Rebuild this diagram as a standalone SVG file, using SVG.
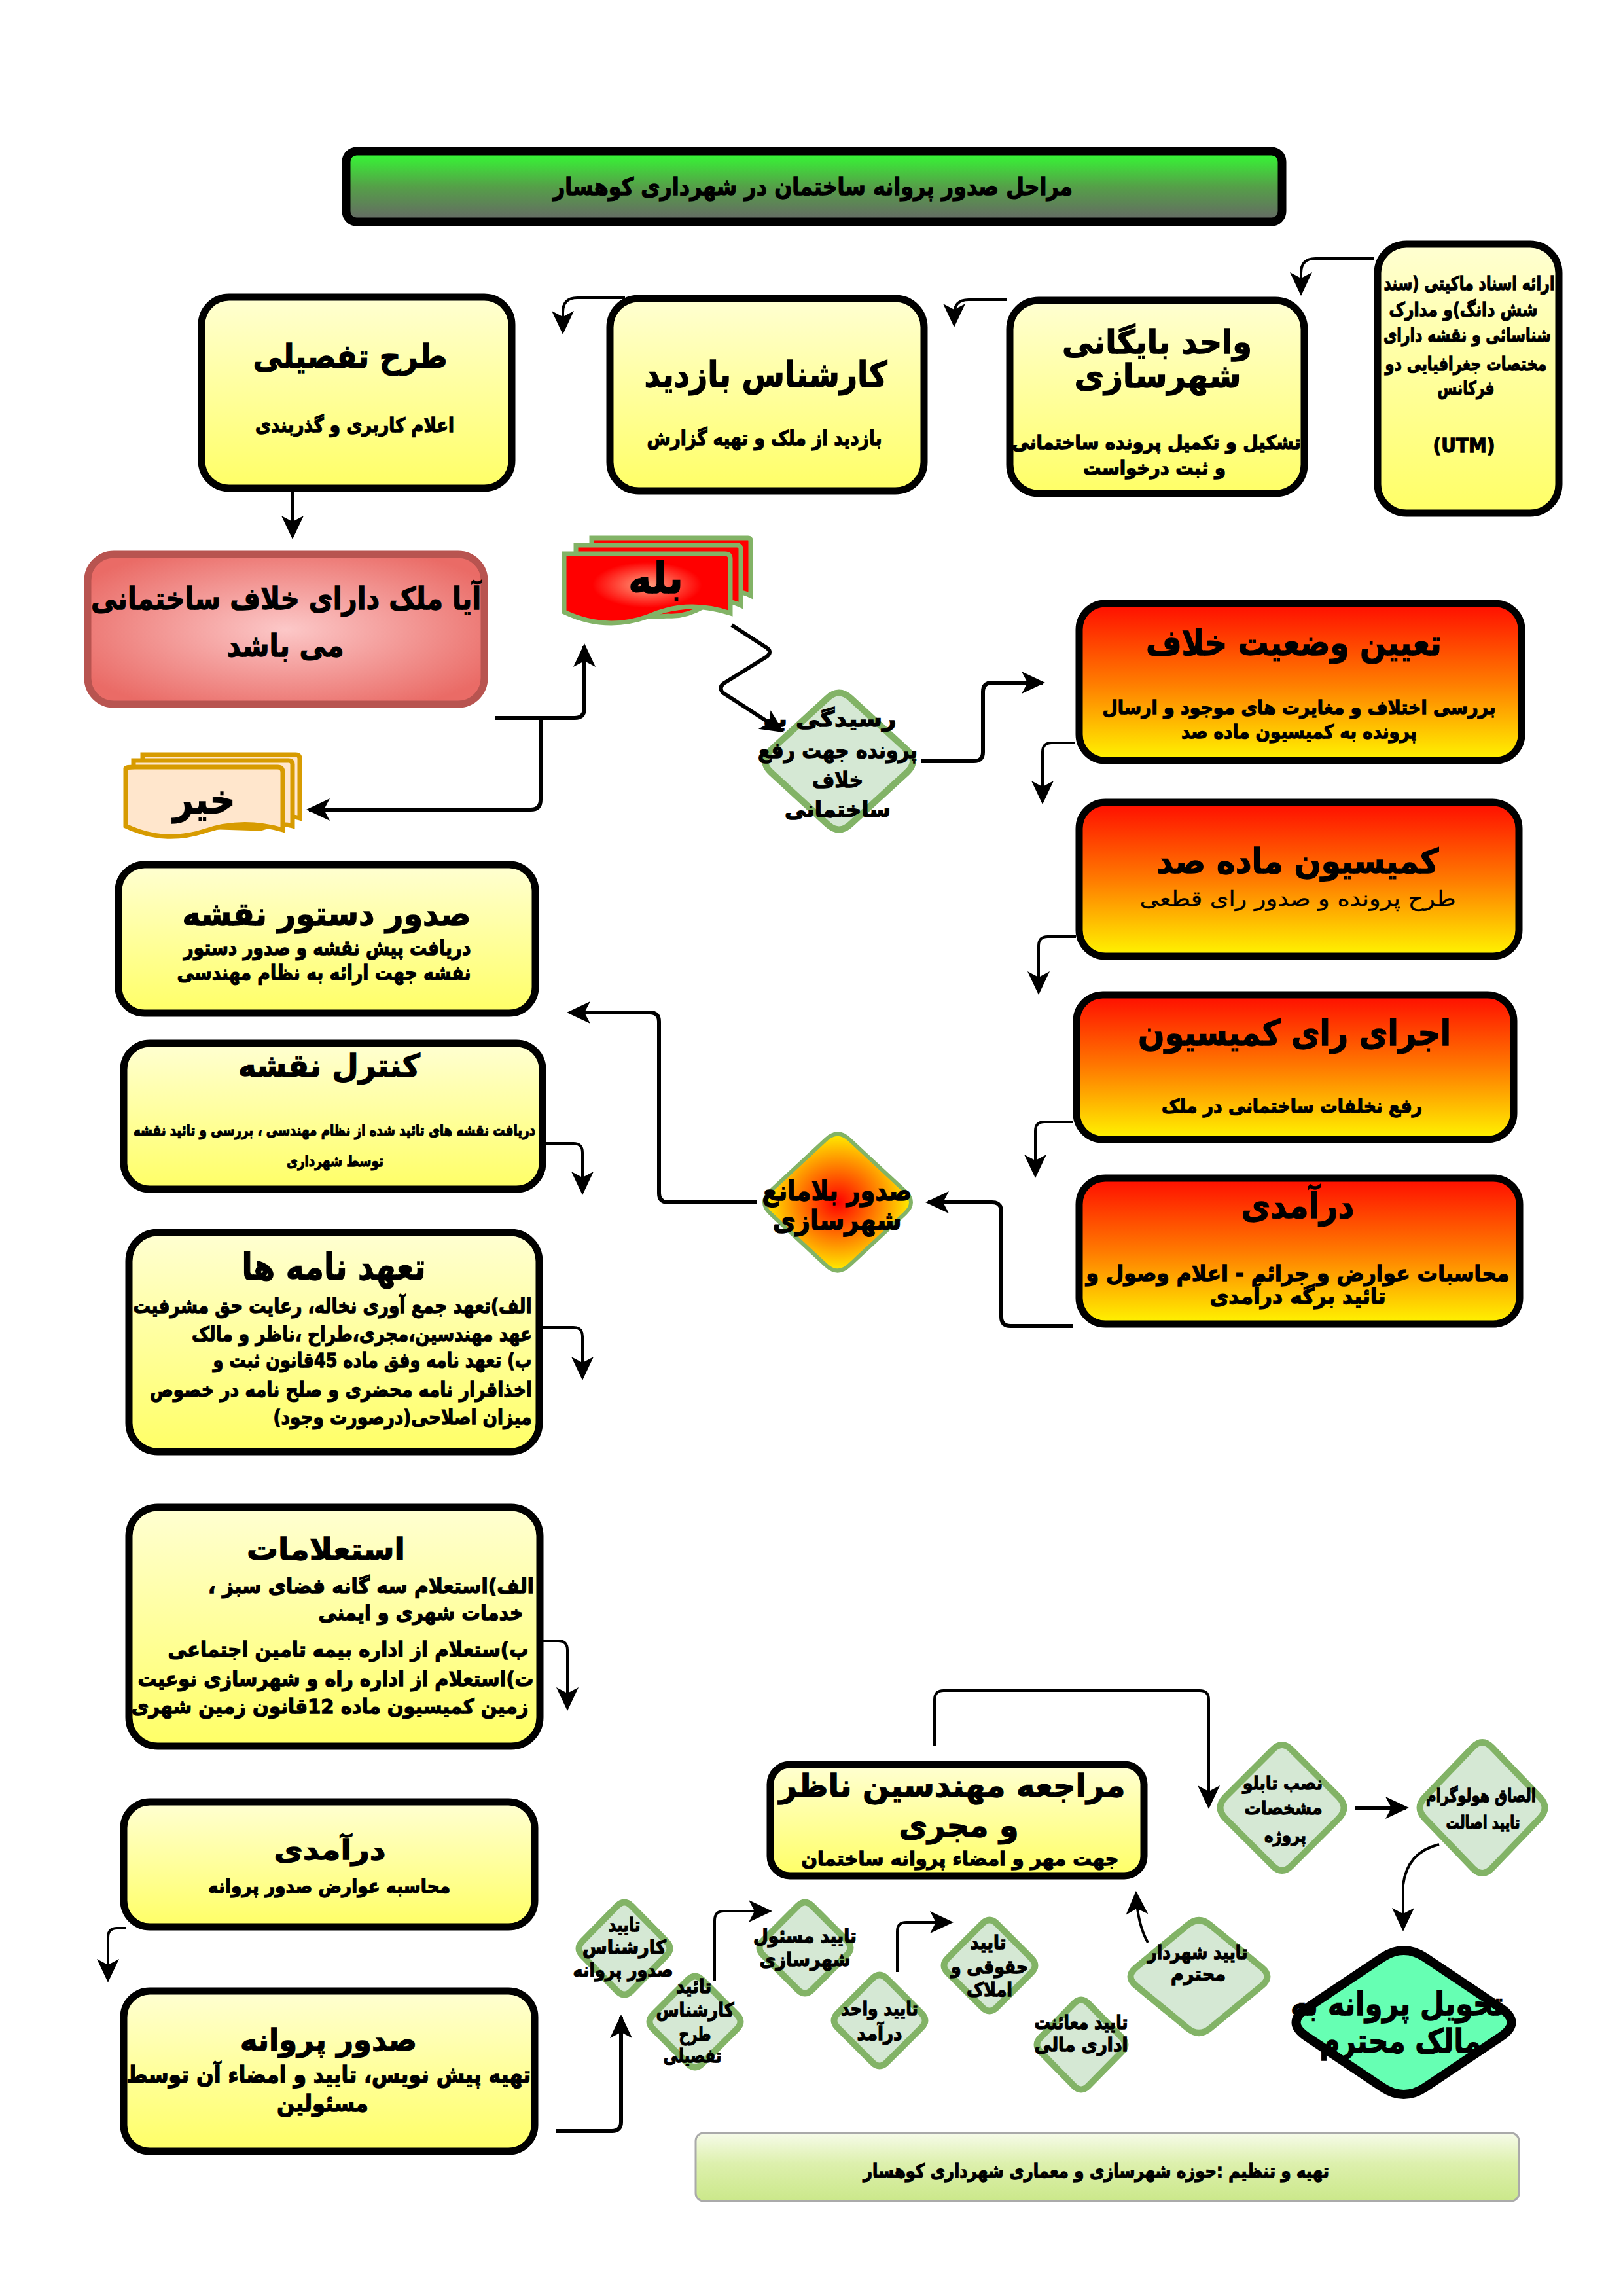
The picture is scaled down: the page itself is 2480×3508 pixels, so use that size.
<svg xmlns="http://www.w3.org/2000/svg" width="2480" height="3508" viewBox="0 0 2480 3508">
<style>
.t{font-family:"DejaVu Sans",sans-serif;font-weight:bold;fill:#000;stroke:#000;stroke-width:1.3px;direction:rtl;text-anchor:middle;dominant-baseline:middle;}
.n{font-weight:normal;stroke-width:0.3px;}
.yb{fill:url(#gY);stroke:#000;stroke-width:11;}
.rb{fill:url(#gR);stroke:#000;stroke-width:11;}
.gd{fill:#d5e8d4;stroke:#82b366;stroke-width:10;stroke-linejoin:round;}
.c{fill:none;stroke:#000;stroke-width:6;stroke-linejoin:round;marker-end:url(#ah);}
.cs{fill:none;stroke:#000;stroke-width:4;stroke-linejoin:round;marker-end:url(#ah);}
</style>
<defs>
<linearGradient id="gY" x1="0" y1="0" x2="0" y2="1"><stop offset="0" stop-color="#ffffd2"/><stop offset="1" stop-color="#ffff66"/></linearGradient>
<linearGradient id="gR" x1="0" y1="0" x2="0" y2="1"><stop offset="0" stop-color="#ff0d00"/><stop offset="0.5" stop-color="#ff7a00"/><stop offset="1" stop-color="#fff500"/></linearGradient>
<radialGradient id="gQ" cx="0.5" cy="0.5" r="0.6"><stop offset="0" stop-color="#fcc8c8"/><stop offset="1" stop-color="#ea6b66"/></radialGradient>
<radialGradient id="gB" cx="0.5" cy="0.45" r="0.55"><stop offset="0" stop-color="#ffa080"/><stop offset="0.6" stop-color="#ff0000"/><stop offset="1" stop-color="#ff0000"/></radialGradient>
<radialGradient id="gD" cx="0.5" cy="0.5" r="0.5"><stop offset="0" stop-color="#ff0000"/><stop offset="1" stop-color="#ffee00"/></radialGradient>
<linearGradient id="gT" x1="0" y1="0" x2="0" y2="1"><stop offset="0" stop-color="#33ff33"/><stop offset="0.5" stop-color="#55a048"/><stop offset="1" stop-color="#666666"/></linearGradient>
<linearGradient id="gF" x1="0" y1="0" x2="0" y2="1"><stop offset="0" stop-color="#f6fbe9"/><stop offset="0.45" stop-color="#ddf0ad"/><stop offset="1" stop-color="#cbe88a"/></linearGradient>
<marker id="ah" markerUnits="userSpaceOnUse" viewBox="0 0 40 36" markerWidth="40" markerHeight="36" refX="32" refY="17" orient="auto"><path d="M0,0 L36,17 L0,34 L9,17 Z" fill="#000"/></marker>
</defs>
<rect width="2480" height="3508" fill="#fff"/>

<g id="title">
<rect x="529" y="231" width="1430" height="108" rx="16" fill="url(#gT)" stroke="#000" stroke-width="13"/>
<text class="t" x="1242" y="287" font-size="37" textLength="794" lengthAdjust="spacingAndGlyphs">مراحل صدور پروانه ساختمان در شهرداری کوهسار</text>
</g>

<g id="node-tarh">
<rect class="yb" x="308" y="454" width="474" height="292" rx="42"/>
<text class="t" x="535" y="548" font-size="50" textLength="297" lengthAdjust="spacingAndGlyphs">طرح تفصیلی</text>
<text class="t" x="542" y="651" font-size="30" textLength="304" lengthAdjust="spacingAndGlyphs">اعلام کاربری و گذربندی</text>
</g>

<g id="node-karshenas">
<rect class="yb" x="932" y="456" width="480" height="294" rx="44"/>
<text class="t" x="1170" y="576" font-size="54" textLength="371" lengthAdjust="spacingAndGlyphs">کارشناس بازدید</text>
<text class="t" x="1168" y="671" font-size="31" textLength="359" lengthAdjust="spacingAndGlyphs">بازدید از ملک  و تهیه گزارش</text>
</g>

<g id="node-bayegani">
<rect class="yb" x="1543" y="459" width="450" height="295" rx="44"/>
<text class="t" x="1768" y="526" font-size="50" textLength="290" lengthAdjust="spacingAndGlyphs">واحد بایگانی</text>
<text class="t" x="1769" y="578" font-size="50" textLength="255" lengthAdjust="spacingAndGlyphs">شهرسازی</text>
<text class="t" x="1767" y="678" font-size="29" textLength="442" lengthAdjust="spacingAndGlyphs">تشکیل و  تکمیل پرونده ساختمانی</text>
<text class="t" x="1764" y="717" font-size="29" textLength="218" lengthAdjust="spacingAndGlyphs">و  ثبت درخواست</text>
</g>

<g id="node-asnad">
<rect class="yb" x="2105" y="373" width="277" height="411" rx="44"/>
<text class="t" x="2245" y="435" font-size="29" textLength="261" lengthAdjust="spacingAndGlyphs">ارائه اسناد ماکیتی (سند</text>
<text class="t" x="2236" y="475" font-size="29" textLength="227" lengthAdjust="spacingAndGlyphs">شش دانگ)و مدارک</text>
<text class="t" x="2242" y="514" font-size="29" textLength="256" lengthAdjust="spacingAndGlyphs">شناسائی و نقشه دارای</text>
<text class="t" x="2240" y="558" font-size="29" textLength="247" lengthAdjust="spacingAndGlyphs">مختصات جغرافیایی دو</text>
<text class="t" x="2240" y="595" font-size="29" textLength="87" lengthAdjust="spacingAndGlyphs">فرکانس</text>
<text class="t" x="2237" y="682" font-size="31" textLength="95" lengthAdjust="spacingAndGlyphs">(UTM)</text>
</g>

<g id="node-soal">
<rect x="134" y="847" width="606" height="229" rx="40" fill="url(#gQ)" stroke="#b85450" stroke-width="11"/>
<text class="t" x="437" y="918" font-size="47" textLength="596" lengthAdjust="spacingAndGlyphs">آیا ملک دارای خلاف ساختمانی</text>
<text class="t" x="436" y="990" font-size="47" textLength="179" lengthAdjust="spacingAndGlyphs">می باشد</text>
</g>

<g id="node-bale" fill="url(#gB)" stroke="#82b366" stroke-width="7">
<path d="M904,822 H1143 Q1147,822 1147,826 V910 Q1118,896 1090,912 T1036,926 Q1000,930 904,920 Z"/>
<path d="M880,833 H1126 Q1132,833 1132,839 V925 Q1103,911 1075,927 T1021,941 Q985,945 880,931 Z"/>
<path d="M862,846 Q862,846 877,846 H1108 Q1116,846 1116,854 V937 Q1050,915 990,942 Q925,965 862,935 Z"/>
<text class="t" x="1002" y="888" font-size="66" textLength="84" lengthAdjust="spacingAndGlyphs">بله</text>
</g>

<g id="node-kheir" fill="#ffe6cc" stroke="#d79b00" stroke-width="7">
<path d="M218,1153 H452 Q458,1153 458,1159 V1250 Q440,1244 410,1255 L218,1250 Z"/>
<path d="M204,1162 H441 Q447,1162 447,1168 V1262 Q428,1256 398,1266 L204,1260 Z"/>
<path d="M192,1174 Q192,1172 206,1172 H424 Q432,1172 432,1180 V1268 Q370,1250 312,1270 Q250,1290 192,1262 Z"/>
<text class="t" x="312" y="1226" font-size="62" textLength="95" lengthAdjust="spacingAndGlyphs">خیر</text>
</g>

<g id="node-residegi">
<path class="gd" stroke-width="7" d="M1300,1067 L1386,1146 Q1404,1163 1386,1180 L1300,1259 Q1282,1276 1264,1259 L1178,1180 Q1160,1163 1178,1146 L1264,1067 Q1282,1050 1300,1067Z"/>
<text class="t" x="1268" y="1100" font-size="33" textLength="203" lengthAdjust="spacingAndGlyphs">رسیدگی به</text>
<text class="t" x="1280" y="1148" font-size="33" textLength="244" lengthAdjust="spacingAndGlyphs">پرونده جهت رفع</text>
<text class="t" x="1280" y="1193" font-size="33" textLength="78" lengthAdjust="spacingAndGlyphs">خلاف</text>
<text class="t" x="1280" y="1238" font-size="33" textLength="162" lengthAdjust="spacingAndGlyphs">ساختمانی</text>
</g>

<g id="node-taein">
<rect class="rb" x="1649" y="922" width="676" height="240" rx="40"/>
<text class="t" x="1977" y="986" font-size="54" textLength="452" lengthAdjust="spacingAndGlyphs">تعیین وضعیت خلاف</text>
<text class="t" x="1985" y="1083" font-size="29" textLength="601" lengthAdjust="spacingAndGlyphs">بررسی اختلاف و مغایرت های موجود  و ارسال</text>
<text class="t" x="1985" y="1120" font-size="29" textLength="360" lengthAdjust="spacingAndGlyphs">پرونده به کمیسیون ماده صد</text>
</g>

<g id="node-komision">
<rect class="rb" x="1649" y="1226" width="672" height="235" rx="40"/>
<text class="t" x="1983" y="1320" font-size="52" textLength="431" lengthAdjust="spacingAndGlyphs">کمیسیون ماده صد</text>
<text class="t n" x="1983" y="1375" font-size="32" textLength="483" lengthAdjust="spacingAndGlyphs">طرح پرونده و صدور رای قطعی</text>
</g>

<g id="node-ejra">
<rect class="rb" x="1645" y="1520" width="668" height="221" rx="40"/>
<text class="t" x="1978" y="1582" font-size="54" textLength="478" lengthAdjust="spacingAndGlyphs">اجرای رای کمیسیون</text>
<text class="t" x="1974" y="1692" font-size="29" textLength="398" lengthAdjust="spacingAndGlyphs">رفع نخلفات ساختمانی در ملک</text>
</g>

<g id="node-daramadi-1">
<rect class="rb" x="1649" y="1800" width="673" height="223" rx="40"/>
<text class="t" x="1983" y="1846" font-size="54" textLength="173" lengthAdjust="spacingAndGlyphs">درآمدی</text>
<text class="t" x="1983" y="1947" font-size="33" textLength="647" lengthAdjust="spacingAndGlyphs">محاسبات عوارض و جرائم - اعلام وصول و</text>
<text class="t" x="1983" y="1982" font-size="33" textLength="269" lengthAdjust="spacingAndGlyphs">تائید برگه درآمدی</text>
</g>

<g id="node-belamane">
<path d="M1298,1741 L1383,1820 Q1401,1837 1383,1854 L1298,1933 Q1280,1950 1262,1933 L1177,1854 Q1159,1837 1177,1820 L1262,1741 Q1280,1724 1298,1741Z" fill="url(#gD)" stroke="#82b366" stroke-width="6"/>
<text class="t" x="1279" y="1822" font-size="42" textLength="229" lengthAdjust="spacingAndGlyphs">صدور بلامانع</text>
<text class="t" x="1279" y="1867" font-size="42" textLength="197" lengthAdjust="spacingAndGlyphs">شهرسازی</text>
</g>

<g id="node-dastoor">
<rect class="yb" x="181" y="1321" width="637" height="227" rx="40"/>
<text class="t" x="499" y="1400" font-size="50" textLength="441" lengthAdjust="spacingAndGlyphs">صدور دستور نقشه</text>
<text class="t" x="500" y="1450" font-size="31" textLength="439" lengthAdjust="spacingAndGlyphs">دریافت پیش نقشه و صدور دستور</text>
<text class="t" x="495" y="1488" font-size="31" textLength="449" lengthAdjust="spacingAndGlyphs">نفشه جهت ارائه به نظام مهندسی</text>
</g>

<g id="node-control">
<rect class="yb" x="189" y="1594" width="640" height="223" rx="40"/>
<text class="t" x="503" y="1632" font-size="48" textLength="278" lengthAdjust="spacingAndGlyphs">کنترل نقشه</text>
<text class="t" x="511" y="1728" font-size="23" textLength="614" lengthAdjust="spacingAndGlyphs">دریافت نقشه های تائید شده از نظام مهندسی ، بررسی و تائید نقشه</text>
<text class="t" x="512" y="1775" font-size="23" textLength="148" lengthAdjust="spacingAndGlyphs">توسط شهرداری</text>
</g>

<g id="node-taahod">
<rect class="yb" x="197" y="1883" width="627" height="335" rx="44"/>
<text class="t" x="510" y="1940" font-size="56" textLength="281" lengthAdjust="spacingAndGlyphs">تعهد نامه ها</text>
<text class="t" x="508" y="1997" font-size="31" textLength="609" lengthAdjust="spacingAndGlyphs">الف)تعهد جمع آوری نخاله، رعایت حق مشرفیت</text>
<text class="t" x="553" y="2040" font-size="31" textLength="520" lengthAdjust="spacingAndGlyphs">عهد مهندسین،مجری،طراح ،ناظر و مالک</text>
<text class="t" x="569" y="2080" font-size="31" textLength="487" lengthAdjust="spacingAndGlyphs">ب) تعهد نامه وفق ماده 45قانون ثبت و</text>
<text class="t" x="521" y="2125" font-size="31" textLength="584" lengthAdjust="spacingAndGlyphs">اخذاقرار نامه محضری و صلح نامه در خصوص</text>
<text class="t" x="615" y="2167" font-size="31" textLength="395" lengthAdjust="spacingAndGlyphs">میزان  اصلاحی(درصورت وجود)</text>
</g>

<g id="node-esteelamat">
<rect class="yb" x="197" y="2303" width="628" height="365" rx="44"/>
<text class="t" x="498" y="2370" font-size="46" textLength="242" lengthAdjust="spacingAndGlyphs">استعلامات</text>
<text class="t" x="567" y="2425" font-size="31" textLength="498" lengthAdjust="spacingAndGlyphs">الف)استعلام سه گانه فضای سبز ،</text>
<text class="t" x="643" y="2466" font-size="31" textLength="313" lengthAdjust="spacingAndGlyphs">خدمات شهری و ایمنی</text>
<text class="t" x="532" y="2522" font-size="31" textLength="551" lengthAdjust="spacingAndGlyphs">ب)ستعلام از اداره بیمه تامین اجتماعی</text>
<text class="t" x="513" y="2567" font-size="31" textLength="605" lengthAdjust="spacingAndGlyphs">ت)استعلام از اداره راه و شهرسازی نوعیت</text>
<text class="t" x="504" y="2609" font-size="31" textLength="607" lengthAdjust="spacingAndGlyphs">زمین کمیسیون ماده 12قانون  زمین شهری</text>
</g>

<g id="node-daramadi-2">
<rect class="yb" x="189" y="2753" width="628" height="191" rx="40"/>
<text class="t" x="504" y="2829" font-size="42" textLength="171" lengthAdjust="spacingAndGlyphs">درآمدی</text>
<text class="t" x="503" y="2884" font-size="29" textLength="370" lengthAdjust="spacingAndGlyphs">محاسبه عوارض صدور پروانه</text>
</g>

<g id="node-sodoor-parvaneh">
<rect class="yb" x="189" y="3042" width="628" height="245" rx="40"/>
<text class="t" x="502" y="3120" font-size="46" textLength="270" lengthAdjust="spacingAndGlyphs">صدور پروانه</text>
<text class="t" x="502" y="3172" font-size="35" textLength="618" lengthAdjust="spacingAndGlyphs">تهیه پیش نویس، تایید و امضاء آن توسط</text>
<text class="t" x="493" y="3216" font-size="35" textLength="140" lengthAdjust="spacingAndGlyphs">مسئولین</text>
</g>

<g id="node-moraje">
<rect class="yb" x="1177" y="2696" width="571" height="170" rx="30"/>
<text class="t" x="1455" y="2732" font-size="48" textLength="529" lengthAdjust="spacingAndGlyphs">مراجعه مهندسین ناظر</text>
<text class="t" x="1465" y="2793" font-size="48" textLength="183" lengthAdjust="spacingAndGlyphs">و مجری</text>
<text class="t" x="1467" y="2842" font-size="29" textLength="485" lengthAdjust="spacingAndGlyphs">جهت مهر و امضاء پروانه ساختمان</text>
</g>

<g id="node-nasb">
<path class="gd" d="M1974,2674 L2046,2746 Q2061,2762 2046,2778 L1974,2850 Q1959,2866 1944,2850 L1872,2778 Q1857,2762 1872,2746 L1944,2674 Q1959,2658 1974,2674Z"/>
<text class="t" x="1960" y="2726" font-size="27" textLength="122" lengthAdjust="spacingAndGlyphs">نصب تابلو</text>
<text class="t" x="1961" y="2764" font-size="27" textLength="119" lengthAdjust="spacingAndGlyphs">مشخصات</text>
<text class="t" x="1964" y="2806" font-size="27" textLength="64" lengthAdjust="spacingAndGlyphs">پروژه</text>
</g>

<g id="node-elsagh">
<path class="gd" d="M2280,2670 L2353,2746 Q2368,2762 2353,2778 L2280,2854 Q2265,2870 2250,2854 L2177,2778 Q2162,2762 2177,2746 L2250,2670 Q2265,2654 2280,2670Z"/>
<text class="t" x="2263" y="2745" font-size="27" textLength="168" lengthAdjust="spacingAndGlyphs">الصاق هولوگرام</text>
<text class="t" x="2266" y="2786" font-size="27" textLength="113" lengthAdjust="spacingAndGlyphs">تایید اصالت</text>
</g>

<g id="node-taeed-sodoor">
<path class="gd" d="M965,2912 L1018,2966 Q1029,2977 1018,2988 L965,3042 Q954,3053 943,3042 L890,2988 Q879,2977 890,2966 L943,2912 Q954,2901 965,2912Z"/>
<text class="t" x="954" y="2943" font-size="29" textLength="49" lengthAdjust="spacingAndGlyphs">تایید</text>
<text class="t" x="954" y="2977" font-size="29" textLength="128" lengthAdjust="spacingAndGlyphs">کارشناس</text>
<text class="t" x="952" y="3012" font-size="29" textLength="153" lengthAdjust="spacingAndGlyphs">صدور پروانه</text>
</g>

<g id="node-taeed-tarh">
<path class="gd" d="M1073,3025 L1126,3078 Q1137,3089 1126,3100 L1073,3153 Q1062,3164 1051,3153 L998,3100 Q987,3089 998,3078 L1051,3025 Q1062,3014 1073,3025Z"/>
<text class="t" x="1060" y="3037" font-size="29" textLength="54" lengthAdjust="spacingAndGlyphs">تائید</text>
<text class="t" x="1062" y="3073" font-size="29" textLength="119" lengthAdjust="spacingAndGlyphs">کارشناس</text>
<text class="t" x="1062" y="3110" font-size="29" textLength="49" lengthAdjust="spacingAndGlyphs">طرح</text>
<text class="t" x="1058" y="3143" font-size="29" textLength="89" lengthAdjust="spacingAndGlyphs">تفصیلی</text>
</g>

<g id="node-taeed-shahrsazi">
<path class="gd" d="M1241,2912 L1294,2965 Q1305,2976 1294,2987 L1241,3040 Q1230,3051 1219,3040 L1166,2987 Q1155,2976 1166,2965 L1219,2912 Q1230,2901 1241,2912Z"/>
<text class="t" x="1230" y="2960" font-size="29" textLength="158" lengthAdjust="spacingAndGlyphs">تایید مسئول</text>
<text class="t" x="1230" y="2996" font-size="29" textLength="139" lengthAdjust="spacingAndGlyphs">شهرسازی</text>
</g>

<g id="node-taeed-daramad">
<path class="gd" d="M1355,3023 L1408,3076 Q1419,3087 1408,3098 L1355,3151 Q1344,3162 1333,3151 L1280,3098 Q1269,3087 1280,3076 L1333,3023 Q1344,3012 1355,3023Z"/>
<text class="t" x="1344" y="3071" font-size="29" textLength="118" lengthAdjust="spacingAndGlyphs">تایید واحد</text>
<text class="t" x="1344" y="3109" font-size="29" textLength="69" lengthAdjust="spacingAndGlyphs">درآمد</text>
</g>

<g id="node-taeed-hoghooghi">
<path class="gd" d="M1523,2939 L1576,2992 Q1587,3003 1576,3014 L1523,3067 Q1512,3078 1501,3067 L1448,3014 Q1437,3003 1448,2992 L1501,2939 Q1512,2928 1523,2939Z"/>
<text class="t" x="1510" y="2970" font-size="29" textLength="55" lengthAdjust="spacingAndGlyphs">تایید</text>
<text class="t" x="1512" y="3007" font-size="29" textLength="118" lengthAdjust="spacingAndGlyphs">حقوقی و</text>
<text class="t" x="1512" y="3042" font-size="29" textLength="70" lengthAdjust="spacingAndGlyphs">املاک</text>
</g>

<g id="node-taeed-mali">
<path class="gd" d="M1663,3061 L1714,3113 Q1725,3124 1714,3135 L1663,3187 Q1652,3198 1641,3187 L1590,3135 Q1579,3124 1590,3113 L1641,3061 Q1652,3050 1663,3061Z"/>
<text class="t" x="1652" y="3092" font-size="29" textLength="143" lengthAdjust="spacingAndGlyphs">تایید معائنت</text>
<text class="t" x="1652" y="3126" font-size="29" textLength="143" lengthAdjust="spacingAndGlyphs">اداری مالی</text>
</g>

<g id="node-taeed-shahrdar">
<path class="gd" d="M1849,2941 L1928,3006 Q1945,3020 1928,3034 L1849,3099 Q1832,3113 1815,3099 L1736,3034 Q1719,3020 1736,3006 L1815,2941 Q1832,2927 1849,2941Z"/>
<text class="t" x="1830" y="2985" font-size="29" textLength="153" lengthAdjust="spacingAndGlyphs">تایید شهردار</text>
<text class="t" x="1831" y="3018" font-size="29" textLength="84" lengthAdjust="spacingAndGlyphs">محترم</text>
</g>

<g id="node-tahvil">
<path d="M2178,2991 L2293,3068 Q2326,3090 2293,3112 L2178,3189 Q2145,3211 2112,3189 L1997,3112 Q1964,3090 1997,3068 L2112,2991 Q2145,2969 2178,2991Z" fill="#66ffb3" stroke="#000" stroke-width="14"/>
<text class="t" x="2135" y="3065" font-size="50" textLength="326" lengthAdjust="spacingAndGlyphs">تحویل پروانه به</text>
<text class="t" x="2140" y="3122" font-size="50" textLength="247" lengthAdjust="spacingAndGlyphs">مالک محترم</text>
</g>

<g id="footer">
<rect x="1063" y="3259" width="1258" height="104" rx="12" fill="url(#gF)" stroke="#aaaaaa" stroke-width="3"/>
<text class="t" x="1675" y="3319" font-size="29" textLength="712" lengthAdjust="spacingAndGlyphs">تهیه و تنظیم :حوزه شهرسازی و معماری شهرداری کوهسار</text>
</g>

<g id="connectors">
<path class="cs" d="M2100,395 H2010 Q1988,395 1988,417 V448"/>
<path class="cs" d="M1538,458 H1480 Q1458,458 1458,480 V496"/>
<path class="cs" d="M955,455 H882 Q860,455 860,477 V507"/>
<path class="cs" d="M447,752 V820"/>
<path class="c" d="M756,1097 H878 Q893,1097 893,1082 V987"/>
<path class="c" d="M826,1097 V1222 Q826,1237 811,1237 H472"/>
<path class="c" d="M1118,955 L1172,990 Q1180,996 1172,1003 L1106,1044 Q1098,1050 1104,1058 L1195,1117"/>
<path class="c" d="M1407,1163 H1488 Q1502,1163 1502,1149 V1057 Q1502,1043 1516,1043 H1593"/>
<path class="cs" d="M1643,1135 H1607 Q1593,1135 1593,1149 V1225"/>
<path class="cs" d="M1644,1431 H1601 Q1587,1431 1587,1445 V1516"/>
<path class="cs" d="M1639,1714 H1596 Q1582,1714 1582,1728 V1796"/>
<path class="c" d="M1639,2026 H1544 Q1530,2026 1530,2012 V1851 Q1530,1837 1516,1837 H1418"/>
<path class="c" d="M1156,1837 H1021 Q1007,1837 1007,1823 V1561 Q1007,1547 993,1547 H870"/>
<path class="cs" d="M834,1747 H876 Q890,1747 890,1761 V1822"/>
<path class="cs" d="M829,2028 H876 Q890,2028 890,2042 V2105"/>
<path class="cs" d="M829,2507 H853 Q867,2507 867,2521 V2610"/>
<path class="cs" d="M193,2946 H179 Q165,2946 165,2960 V3025"/>
<path class="c" d="M849,3256 H935 Q949,3256 949,3242 V3082"/>
<path class="cs" d="M1092,3027 V2934 Q1092,2920 1106,2920 H1176"/>
<path class="cs" d="M1371,3013 V2951 Q1371,2937 1385,2937 H1453"/>
<path class="cs" d="M1754,2968 Q1738,2940 1736,2893"/>
<path class="cs" d="M1428,2667 V2597 Q1428,2583 1442,2583 H1833 Q1847,2583 1847,2597 V2760"/>
<path class="c" d="M2070,2762 H2149"/>
<path class="cs" d="M2199,2818 Q2150,2830 2144,2880 V2947"/>
</g>
</svg>
